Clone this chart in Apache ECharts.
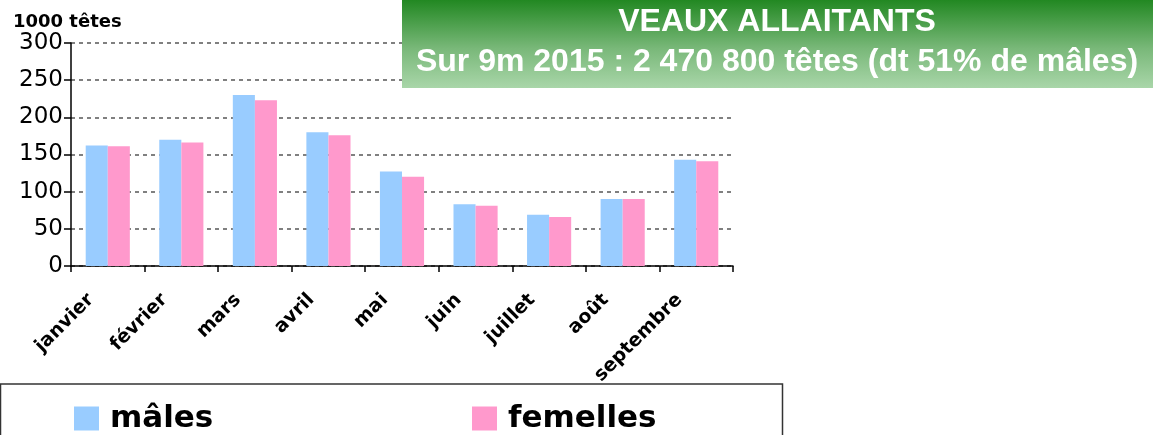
<!DOCTYPE html>
<html>
<head>
<meta charset="utf-8">
<script src="https://cdn.jsdelivr.net/npm/echarts@6/dist/echarts.min.js"></script>
<style>
  html, body { margin: 0; padding: 0; background: #fff; }
  #container { width: 1153px; height: 435px; }
</style>
</head>
<body>
<div id="container"></div>
<script>
let chart = echarts.init(document.getElementById('container'));

// data (1000 têtes)
var months = ['janvier', 'février', 'mars', 'avril', 'mai', 'juin', 'juillet', 'août', 'septembre'];
var males = [162, 170, 230, 180, 127, 83, 69, 90, 143];
var femelles = [161, 166, 223, 176, 120, 81, 66, 90, 141];
var yTicks = [0, 50, 100, 150, 200, 250, 300];

var titleLine1 = 'VEAUX ALLAITANTS';
var titleLine2 = 'Sur 9m 2015 : 2 470 800 têtes (dt 51% de mâles)';

var legendText = {
    fontFamily: 'DejaVu Sans',
    fontWeight: 'bold',
    fontSize: 31,
    color: '#000',
    padding: [0, 0, 0, 6]
};

let option = {
    animation: false,
    backgroundColor: '#fff',
    grid: {
        left: 71,
        right: 420,
        top: 43,
        bottom: 169,
    },
    legend: [{
        data: ['mâles'],
        left: 69,
        top: 398,
        itemWidth: 25,
        itemHeight: 24,
        icon: 'rect',
        textStyle: legendText,
    }, {
        data: ['femelles'],
        left: 467,
        top: 398,
        itemWidth: 25,
        itemHeight: 24,
        icon: 'rect',
        textStyle: legendText,
    }],
    xAxis: {
        type: 'category',
        data: months,
        axisLine: { lineStyle: { color: '#000', width: 1.5 } },
        axisTick: { show: true, length: 6, lineStyle: { color: '#000', width: 1.5 } },
        axisLabel: {
            interval: 0,
            rotate: 45,
            margin: 14,
            padding: [0, 24, 0, 0],
            color: '#000',
            fontFamily: 'DejaVu Sans',
            fontWeight: 'bold',
            fontSize: 19,
        },
    },
    yAxis: {
        type: 'value',
        min: yTicks[0],
        max: yTicks[yTicks.length - 1],
        interval: 50,
        name: '1000 têtes',
        nameLocation: 'end',
        nameGap: 6,
        nameTextStyle: {
            align: 'left',
            padding: [0, 0, 0, -58],
            color: '#000',
            fontFamily: 'DejaVu Sans',
            fontWeight: 'bold',
            fontSize: 18,
        },
        axisLine: { show: true, lineStyle: { color: '#000', width: 1.5 } },
        axisTick: { show: true, length: 7, lineStyle: { color: '#000', width: 1.5 } },
        axisLabel: {
            margin: 8,
            color: '#000',
            fontFamily: 'DejaVu Sans',
            fontSize: 23,
        },
        splitLine: {
            show: true,
            lineStyle: { color: '#808080', type: [4, 4], width: 2 },
        },
    },
    series: [{
        name: 'mâles',
        type: 'bar',
        data: males,
        barGap: '0%',
        barCategoryGap: '40%',
        itemStyle: { color: '#99CCFF' },
    }, {
        name: 'femelles',
        type: 'bar',
        data: femelles,
        barGap: '0%',
        barCategoryGap: '40%',
        itemStyle: { color: '#FF99CC' },
    }],
    graphic: [{
        type: 'rect',
        z: 100,
        shape: { x: 402, y: 0, width: 751, height: 88 },
        style: {
            fill: new echarts.graphic.LinearGradient(0, 0, 0, 1, [
                { offset: 0, color: '#228822' },
                { offset: 0.55, color: '#79b879' },
                { offset: 1, color: '#a9d6a9' },
            ]),
        },
    }, {
        type: 'text',
        z: 101,
        x: 777,
        y: 22,
        style: {
            text: titleLine1,
            fill: '#fff',
            font: 'bold 32px "Liberation Sans", Arial, sans-serif',
            align: 'center',
            verticalAlign: 'middle',
        },
    }, {
        type: 'text',
        z: 101,
        x: 777,
        y: 62,
        style: {
            text: titleLine2,
            fill: '#fff',
            font: 'bold 32px "Liberation Sans", Arial, sans-serif',
            align: 'center',
            verticalAlign: 'middle',
        },
    }, {
        type: 'rect',
        z: 0,
        shape: { x: 0.5, y: 384, width: 782, height: 70 },
        style: { fill: 'none', stroke: '#333', lineWidth: 1.5 },
    }],
};

chart.setOption(option);
</script>
</body>
</html>
